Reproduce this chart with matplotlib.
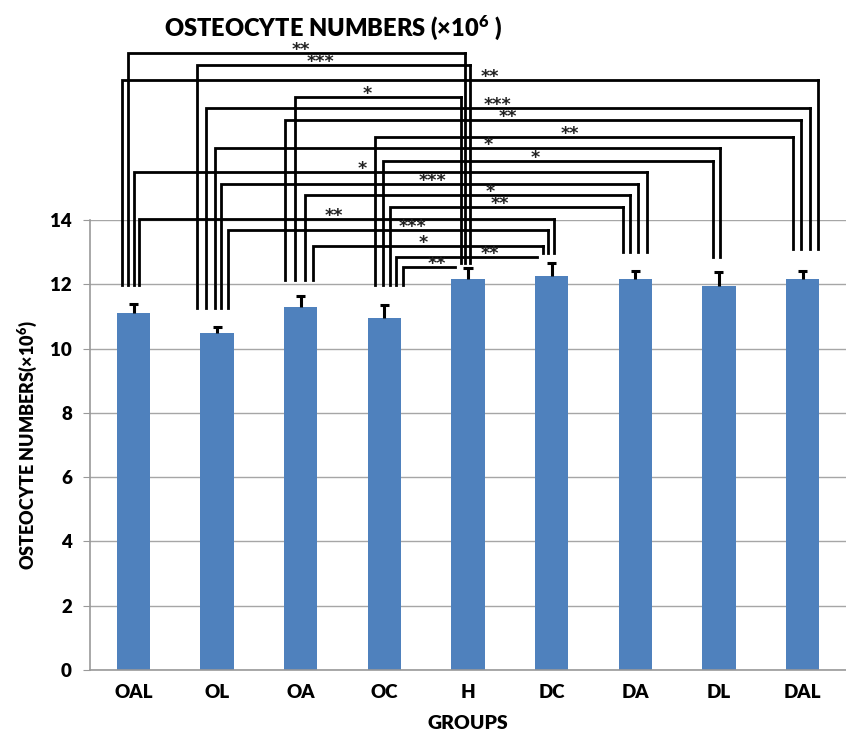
import numpy as np
import matplotlib.pyplot as plt

plt.rcParams['font.family'] = ['Lato', 'DejaVu Sans']
plt.rcParams['font.weight'] = 'heavy'
plt.rcParams['mathtext.fontset'] = 'custom'
plt.rcParams['mathtext.bf'] = 'Lato:heavy'
plt.rcParams['mathtext.rm'] = 'Lato:heavy'
plt.rcParams['mathtext.default'] = 'bf'

# group means and upper error (x10^6)
groups = ['OAL', 'OL', 'OA', 'OC', 'H', 'DC', 'DA', 'DL', 'DAL']
means = [11.1, 10.48, 11.29, 10.95, 12.17, 12.25, 12.17, 11.95, 12.17]
errors = [0.29, 0.19, 0.35, 0.41, 0.33, 0.41, 0.24, 0.43, 0.24]

# significance comparisons: (left group, right group, stars)
pairs = [(0, 4, '**'), (1, 4, '***'), (0, 8, '**'), (2, 4, '*'),
         (1, 8, '***'), (2, 8, '**'), (3, 8, '**'), (1, 7, '*'),
         (3, 7, '*'), (0, 6, '*'), (1, 6, '***'), (2, 6, '*'),
         (3, 6, '**'), (0, 5, '**'), (1, 5, '***'), (2, 5, '*'),
         (3, 5, '**'), (3, 4, '**')]

# bracket layout (as drawn in the original): height, leg offsets, star x, right leg drawn
br_y = [19.2, 18.82, 18.36, 17.83, 17.49, 17.11, 16.58, 16.24, 15.84,
        15.49, 15.12, 14.78, 14.41, 14.03, 13.69, 13.19, 12.85, 12.54]
br_dl = [-0.066, -0.24, -0.14, -0.07, -0.13, -0.19, -0.11, -0.025, -0.015,
         0.0, 0.05, 0.05, 0.07, 0.066, 0.13, 0.15, 0.14, 0.22]
br_dr = [-0.035, 0.025, 0.19, -0.08, 0.09, -0.02, -0.11, 0.015, -0.07,
         0.14, 0.035, -0.06, -0.15, 0.03, -0.04, -0.1, -0.17, -0.15]
star_x = [2.0, 2.23, 4.26, 2.79, 4.35, 4.48, 5.22, 4.24, 4.80,
          2.74, 3.58, 4.26, 4.38, 2.39, 3.34, 3.46, 4.26, 3.63]
right_leg = [True] * 16 + [False, False]
leg_bottom = [11.98, 11.26, 12.13, 11.98, 12.66, 12.97, 13.0, 12.85, 13.1]

fig = plt.figure(figsize=(8.46, 7.35), dpi=100)
ax = fig.add_axes([0.1064, 0.0884, 0.8936, 0.6122])

x = np.arange(len(groups))
tops = np.array(means) + np.array(errors)
ax.bar(x, means, width=0.4, color='#4F81BD', zorder=2)
# upper error bars only
ax.vlines(x, means, tops, color='black', lw=2.2, zorder=3)
ax.hlines(tops, x - 0.055, x + 0.055, color='black', lw=2.2, zorder=3)

for i, (a, b, s) in enumerate(pairs):
    xl = a + br_dl[i]
    xr = b + br_dr[i]
    y = br_y[i]
    ax.plot([xl, xl, xr], [leg_bottom[a], y, y], color='black', lw=2.0,
            clip_on=False, zorder=4, solid_joinstyle='miter')
    if right_leg[i]:
        ax.plot([xr, xr], [y, leg_bottom[b]], color='black', lw=2.0,
                clip_on=False, zorder=4)
    ax.text(star_x[i], y - 0.07, s, ha='center', va='baseline', fontsize=12.5,
            family='DejaVu Sans', fontweight='bold', color='#222222',
            clip_on=False, zorder=5)

ax.set_xlim(-0.52, 8.52)
ax.set_ylim(0, 14)
ax.set_yticks(np.arange(0, 15, 2))
ax.set_xticks(x)
ax.set_xticklabels(groups)
ax.tick_params(axis='x', length=0, pad=10, labelsize=13.5)
ax.tick_params(axis='y', length=5, color='#999999', labelsize=13.5, pad=8)
ax.grid(axis='y', color='#A6A6A6', lw=1, zorder=0)
for side in ['top', 'right']:
    ax.spines[side].set_visible(False)
for side in ['left', 'bottom']:
    ax.spines[side].set_color('#999999')
    ax.spines[side].set_linewidth(1.2)

ax.set_xlabel('GROUPS', fontsize=14, fontweight='heavy', labelpad=10)
ax.set_ylabel('OSTEOCYTE NUMBERS(×10$^{6}$)', fontsize=13, fontweight='heavy',
              labelpad=8)
fig.text(0.394, 0.963, 'OSTEOCYTE NUMBERS (×10$^{6}$ )', ha='center', va='center',
         fontsize=17, fontweight='heavy')

fig.savefig('out.png', dpi=100)
